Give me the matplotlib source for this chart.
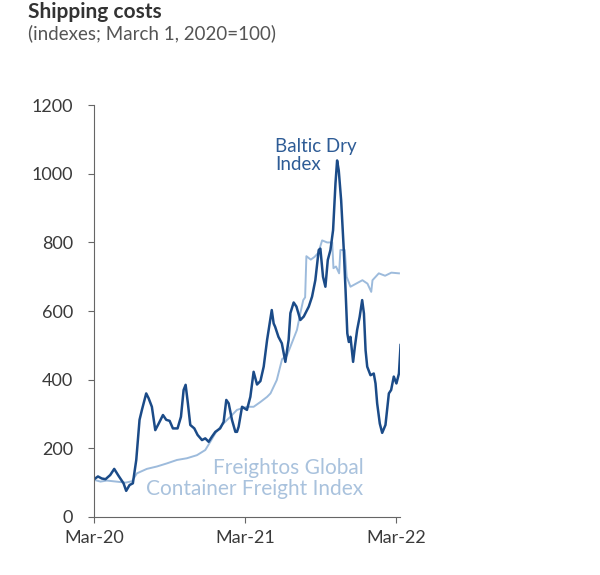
import matplotlib.pyplot as plt

# months after March 1, 2020
baltic_months = [
    0.0, 0.3, 0.6, 0.9, 1.27, 1.59, 1.93, 2.33, 2.54, 2.81, 3.07, 3.34, 3.6, 3.79,
    4.13, 4.32, 4.58, 4.85, 5.12, 5.46, 5.72, 5.99, 6.25, 6.62, 6.89, 7.1, 7.26,
    7.44, 7.63, 7.95, 8.21, 8.56, 8.82, 9.09, 9.35, 9.62, 10.0, 10.28, 10.49,
    10.68, 10.94, 11.21, 11.34, 11.47, 11.74, 12.13, 12.4, 12.66, 12.93, 13.2,
    13.46, 13.73, 14.1, 14.25, 14.37, 14.63, 14.9, 15.18, 15.44, 15.58, 15.84,
    16.06, 16.37, 16.64, 17.04, 17.3, 17.56, 17.83, 17.96, 18.17, 18.36, 18.55,
    18.76, 18.97, 19.16, 19.29, 19.42, 19.61, 19.82, 19.96, 20.1, 20.22, 20.35,
    20.56, 20.7, 20.88, 21.08, 21.28, 21.42, 21.55, 21.68, 21.94, 22.2, 22.34,
    22.47, 22.68, 22.87, 23.13, 23.4, 23.58, 23.79, 24.0, 24.2, 24.33,
]
baltic_values = [
    110, 118, 112, 110, 122, 140, 120, 98, 76, 93, 98, 166, 283, 312,
    360, 346, 321, 253, 272, 297, 283, 280, 258, 258, 292, 370, 385,
    331, 268, 258, 239, 224, 229, 219, 234, 248, 258, 277, 341,
    331, 283, 248, 248, 263, 321, 312, 350, 423, 386, 396,
    438, 516, 603, 564, 554, 525, 506, 452, 516, 594, 625,
    613, 574, 584, 613, 642, 690, 778, 782, 700, 671, 749,
    778, 836, 972, 1039, 1010, 923, 778, 661, 535, 510, 525,
    452, 496, 545, 583, 632, 593, 486, 438, 413, 418, 389,
    331, 272, 245, 268, 360, 370, 409, 389, 418, 501,
]

freightos_months = [
    0.0, 0.5, 1.0, 1.5, 2.0, 2.5, 3.0, 3.39, 4.18, 4.98, 5.77, 6.57, 7.36, 8.16,
    8.82, 9.22, 9.62, 10.15, 10.81, 11.34, 12.13, 12.66, 13.2, 13.73, 14.0, 14.5,
    14.92, 15.3, 15.58, 16.1, 16.37, 16.6, 16.75, 16.85, 17.2, 17.5, 17.8, 18.1,
    18.5, 18.9, 19.0, 19.2, 19.45, 19.55, 19.9, 20.05, 20.35, 20.8, 21.3, 21.7,
    22.0, 22.1, 22.6, 23.1, 23.6, 24.2,
]
freightos_values = [
    108, 103, 106, 104, 102, 100, 104, 127, 140, 147, 156, 166, 171, 180,
    195, 219, 244, 268, 292, 312, 321, 321, 335, 350, 360, 399,
    460, 470, 496, 545, 594, 632, 640, 760, 750, 758, 770, 806,
    800, 800, 725, 730, 710, 778, 778, 700, 671, 680, 690, 680,
    656, 690, 710, 703, 712, 710,
]

x_ticks = [0, 12, 24]
x_labels = ["Mar-20", "Mar-21", "Mar-22"]
y_ticks = [0, 200, 400, 600, 800, 1000, 1200]

DARK = "#1b4b88"
LIGHT = "#9dbbdc"

plt.rcParams["font.family"] = ["Lato", "DejaVu Sans"]

fig = plt.figure(figsize=(6.0, 5.75), dpi=100)
ax = fig.add_axes([0.157, 0.101, 0.51, 0.716])

ax.plot(freightos_months, freightos_values, color=LIGHT, lw=1.4)
ax.plot(baltic_months, baltic_values, color=DARK, lw=1.8)

ax.set_xlim(0, 24.3)
ax.set_ylim(0, 1200)
ax.set_xticks(x_ticks, x_labels)
ax.set_yticks(y_ticks)
for side in ["top", "right"]:
    ax.spines[side].set_visible(False)
for side in ["left", "bottom"]:
    ax.spines[side].set_color("#666666")
ax.tick_params(colors="#666666", labelcolor="#3a3a3a", labelsize=13, length=4.5)
ax.tick_params(axis="y", pad=10.5)
ax.tick_params(axis="x", pad=5)

ax.text(14.39, 1054, "Baltic Dry\nIndex", color="#2e5c96", fontsize=13.5,
        ha="left", va="center", linespacing=1.05)
ax.text(21.38, 111, "Freightos Global\nContainer Freight Index", color="#a9c2dd",
        fontsize=15, ha="right", va="center", multialignment="right",
        linespacing=1.05)

fig.text(0.047, 1 - 18.5 / 575, "Shipping costs", fontsize=15, fontweight="bold",
         color="#333333", ha="left", va="baseline")
fig.text(0.047, 1 - 39 / 575, "(indexes; March 1, 2020=100)", fontsize=13.5,
         color="#555555", ha="left", va="baseline")

fig.savefig("out.png", dpi=100, facecolor="white")
